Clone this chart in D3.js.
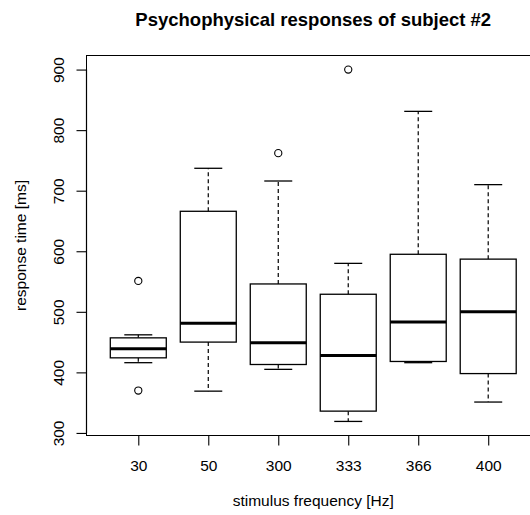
<!DOCTYPE html>
<html>
<head>
<meta charset="utf-8">
<script src="https://cdn.jsdelivr.net/npm/d3@7"></script>
<style>
  html, body { margin: 0; padding: 0; background: #fff; }
  svg { display: block; }
  text { font-family: "Liberation Sans", Arial, Helvetica, sans-serif; }
</style>
</head>
<body>
<svg id="chart" width="530" height="515"></svg>
<script>
// ---- data ----
const categories = ["30", "50", "300", "333", "366", "400"];
const whiskerLow  = [416, 369, 405, 319, 416, 351];
const quartile1   = [424, 450, 413, 336, 418, 398];
const medians     = [439, 481, 449, 428, 483, 500];
const quartile3   = [457, 666, 546, 529, 595, 587];
const whiskerHigh = [462, 737, 716, 580, 831, 710];
const outliers    = [[551, 370], [], [762], [900], [], []];
const yTicks = [300, 400, 500, 600, 700, 800, 900];

const title = "Psychophysical responses of subject #2";
const xTitle = "stimulus frequency [Hz]";
const yTitle = "response time [ms]";

// ---- layout ----
const svg = d3.select("#chart");
const mLeft = 86.5, mRight = 540, mTop = 55.5, mBottom = 435.5;

const groups = categories.map((c, i) => ({
  cat: c, idx: i + 1,
  lo: whiskerLow[i], q1: quartile1[i], med: medians[i],
  q3: quartile3[i], hi: whiskerHigh[i], out: outliers[i]
}));

const allVals = groups.flatMap(g => [g.lo, g.hi, ...g.out]);
const yMin = d3.min(allVals), yMax = d3.max(allVals);
const pad = (yMax - yMin) * 0.04;

const x = d3.scaleLinear().domain([0.5 - 0.24, categories.length + 0.5 + 0.24]).range([mLeft, mRight]);
const y = d3.scaleLinear().domain([yMin - pad, yMax + pad]).range([mBottom, mTop]);

const boxW = x(1.4) - x(1);   // half width 0.4
const capW = x(1.2) - x(1);   // half width 0.2

// plot frame
svg.append("rect")
  .attr("x", mLeft).attr("y", mTop)
  .attr("width", mRight - mLeft).attr("height", mBottom - mTop)
  .attr("fill", "none").attr("stroke", "#000").attr("stroke-width", 1);

const gg = svg.append("g");
const grp = gg.selectAll("g.box").data(groups).join("g").attr("class", "box");

// dashed whiskers
grp.append("line")
  .attr("x1", d => x(d.idx)).attr("x2", d => x(d.idx))
  .attr("y1", d => y(d.q3)).attr("y2", d => y(d.hi))
  .attr("stroke", "#000").attr("stroke-width", 1.2).attr("stroke-dasharray", "4,3");
grp.append("line")
  .attr("x1", d => x(d.idx)).attr("x2", d => x(d.idx))
  .attr("y1", d => y(d.q1)).attr("y2", d => y(d.lo))
  .attr("stroke", "#000").attr("stroke-width", 1.2).attr("stroke-dasharray", "4,3");
// caps
grp.append("line")
  .attr("x1", d => x(d.idx) - capW).attr("x2", d => x(d.idx) + capW)
  .attr("y1", d => y(d.hi)).attr("y2", d => y(d.hi))
  .attr("stroke", "#000").attr("stroke-width", 1.3);
grp.append("line")
  .attr("x1", d => x(d.idx) - capW).attr("x2", d => x(d.idx) + capW)
  .attr("y1", d => y(d.lo)).attr("y2", d => y(d.lo))
  .attr("stroke", "#000").attr("stroke-width", 1.3);
// boxes
grp.append("rect")
  .attr("x", d => x(d.idx) - boxW).attr("width", 2 * boxW)
  .attr("y", d => y(d.q3)).attr("height", d => y(d.q1) - y(d.q3))
  .attr("fill", "#fff").attr("stroke", "#000").attr("stroke-width", 1.3);
// medians
grp.append("line")
  .attr("x1", d => x(d.idx) - boxW).attr("x2", d => x(d.idx) + boxW)
  .attr("y1", d => y(d.med)).attr("y2", d => y(d.med))
  .attr("stroke", "#000").attr("stroke-width", 3);
// outliers
grp.selectAll("circle").data(d => d.out.map(v => ({idx: d.idx, v}))).join("circle")
  .attr("cx", d => x(d.idx)).attr("cy", d => y(d.v)).attr("r", 3.6)
  .attr("fill", "none").attr("stroke", "#000").attr("stroke-width", 1.1);

// x axis
const xAxis = svg.append("g").attr("transform", `translate(0,${mBottom})`)
  .call(d3.axisBottom(x).tickValues(d3.range(1, categories.length + 1))
    .tickFormat(i => categories[i - 1]).tickSize(10).tickPadding(0));
xAxis.select(".domain").remove();
xAxis.selectAll("line").attr("stroke", "#000").attr("stroke-width", 1.1);
xAxis.selectAll("text").attr("font-size", "15.5px").attr("fill", "#000")
  .attr("dy", null).attr("y", 35.5);
svg.append("line").attr("x1", x(1)).attr("x2", x(categories.length))
  .attr("y1", mBottom).attr("y2", mBottom).attr("stroke", "#000").attr("stroke-width", 1.2);

// y axis
const yAxis = svg.append("g").attr("transform", `translate(${mLeft},0)`)
  .call(d3.axisLeft(y).tickValues(yTicks).tickSize(10).tickFormat(d3.format("d")));
yAxis.select(".domain").remove();
yAxis.selectAll("line").attr("stroke", "#000").attr("stroke-width", 1.1);
yAxis.selectAll("text").remove();
yAxis.selectAll("g.tick").append("text")
  .attr("transform", "translate(-23,0) rotate(-90)")
  .attr("text-anchor", "middle").attr("font-size", "15.5px").attr("fill", "#000")
  .text(d => d);
svg.append("line").attr("x1", mLeft).attr("x2", mLeft)
  .attr("y1", y(yTicks[0])).attr("y2", y(yTicks[yTicks.length - 1]))
  .attr("stroke", "#000").attr("stroke-width", 1.2);

// titles
svg.append("text").attr("x", (mLeft + mRight) / 2).attr("y", 26)
  .attr("text-anchor", "middle").attr("font-size", "18.5px").attr("font-weight", "bold")
  .attr("fill", "#000").text(title);
svg.append("text").attr("x", (mLeft + mRight) / 2).attr("y", 506)
  .attr("text-anchor", "middle").attr("font-size", "15.5px").attr("fill", "#000").text(xTitle);
svg.append("text").attr("transform", `translate(25.5,${(mTop + mBottom) / 2}) rotate(-90)`)
  .attr("text-anchor", "middle").attr("font-size", "15.5px").attr("fill", "#000").text(yTitle);
</script>
</body>
</html>
